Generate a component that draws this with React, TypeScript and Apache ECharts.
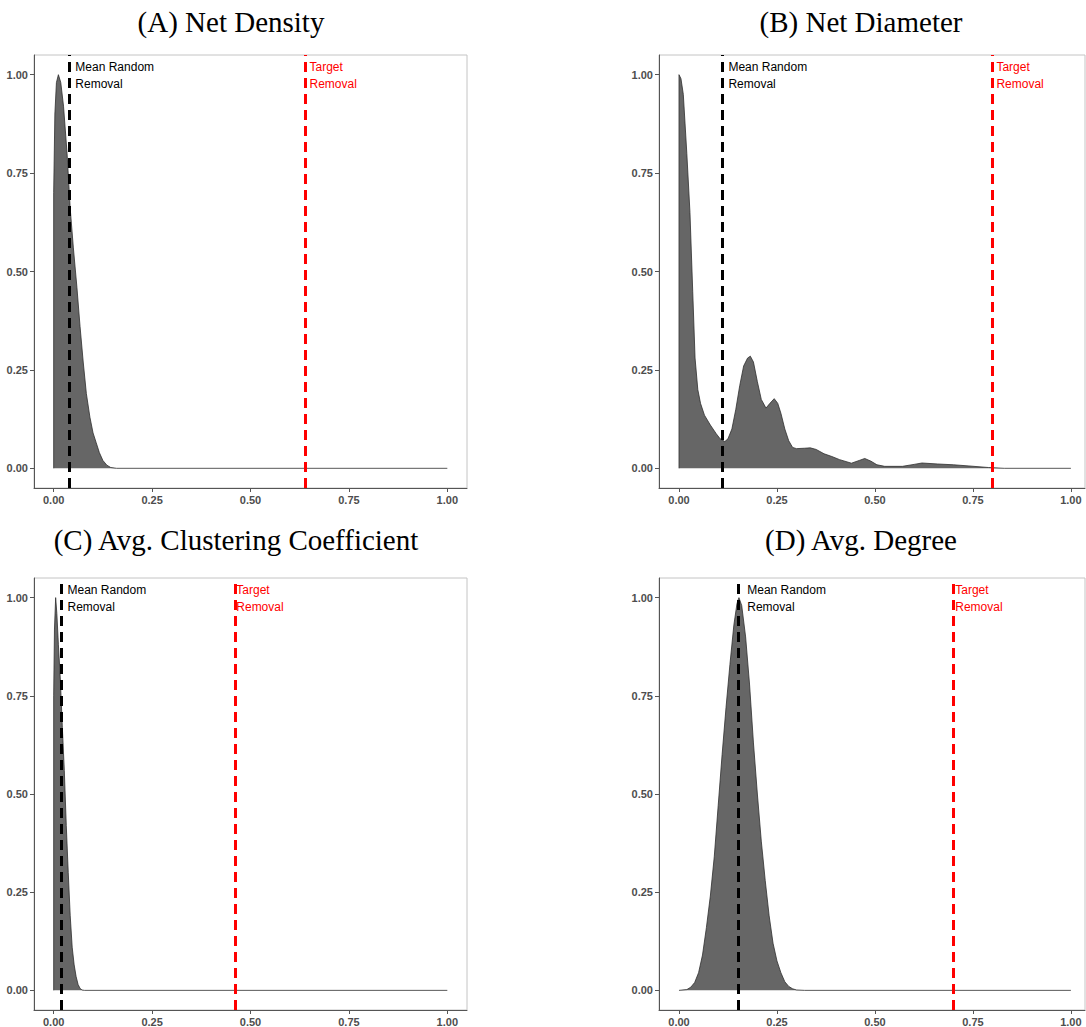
import React, { useEffect, useRef } from "react";
import * as echarts from "echarts";

const tickValues = [0, 0.25, 0.5, 0.75, 1];
const panelTitles = [
  "(A) Net Density",
  "(B) Net Diameter",
  "(C) Avg. Clustering Coefficient",
  "(D) Avg. Degree",
];

const netDensity = [
  [0, 0], [0, 0.7], [0.003, 0.9], [0.007, 0.98], [0.012, 1.0], [0.018, 0.98],
  [0.025, 0.92], [0.034, 0.8], [0.042, 0.66], [0.05, 0.56], [0.059, 0.46],
  [0.067, 0.36], [0.075, 0.27], [0.083, 0.19], [0.092, 0.13], [0.1, 0.09],
  [0.108, 0.065], [0.116, 0.04], [0.125, 0.02], [0.135, 0.008], [0.145, 0.002],
  [0.16, 0], [1, 0],
];

const netDiameter = [
  [0, 0], [0, 1.0], [0.005, 0.99], [0.011, 0.95], [0.02, 0.8], [0.028, 0.65],
  [0.035, 0.45], [0.041, 0.28], [0.048, 0.2], [0.055, 0.165], [0.065, 0.135],
  [0.08, 0.11], [0.095, 0.088], [0.105, 0.075], [0.117, 0.068], [0.125, 0.075],
  [0.135, 0.1], [0.145, 0.15], [0.155, 0.21], [0.165, 0.26], [0.175, 0.28],
  [0.182, 0.285], [0.19, 0.27], [0.2, 0.22], [0.21, 0.175], [0.222, 0.153],
  [0.232, 0.165], [0.243, 0.177], [0.252, 0.165], [0.26, 0.14], [0.27, 0.1],
  [0.28, 0.07], [0.29, 0.053], [0.3, 0.05], [0.32, 0.051], [0.335, 0.052],
  [0.35, 0.048], [0.37, 0.037], [0.39, 0.03], [0.41, 0.022], [0.44, 0.013],
  [0.46, 0.02], [0.474, 0.025], [0.49, 0.018], [0.505, 0.009], [0.525, 0.005],
  [0.57, 0.005], [0.6, 0.01], [0.62, 0.0135], [0.66, 0.011], [0.7, 0.009],
  [0.74, 0.006], [0.79, 0.002], [0.83, 0], [1, 0],
];

const avgClustering = [
  [0, 0], [0, 0.75], [0.002, 0.92], [0.005, 1.0], [0.008, 0.96], [0.012, 0.88],
  [0.017, 0.79], [0.022, 0.67], [0.027, 0.56], [0.032, 0.42], [0.037, 0.3],
  [0.042, 0.19], [0.047, 0.11], [0.052, 0.065], [0.057, 0.035], [0.062, 0.015],
  [0.067, 0.005], [0.072, 0.001], [0.078, 0], [1, 0],
];

const avgDegree = [
  [0, 0], [0.02, 0.002], [0.03, 0.008], [0.04, 0.02], [0.05, 0.045], [0.06, 0.09],
  [0.07, 0.16], [0.08, 0.24], [0.09, 0.34], [0.1, 0.47], [0.11, 0.6], [0.12, 0.72],
  [0.13, 0.83], [0.14, 0.93], [0.148, 0.985], [0.153, 1.0], [0.16, 0.98], [0.17, 0.9],
  [0.18, 0.78], [0.19, 0.63], [0.2, 0.5], [0.21, 0.38], [0.22, 0.28], [0.23, 0.19],
  [0.24, 0.12], [0.25, 0.075], [0.26, 0.045], [0.27, 0.022], [0.28, 0.01],
  [0.29, 0.004], [0.3, 0.001], [0.32, 0], [1, 0],
];

const meanRandomRemoval = [0.036, 0.107, 0.016, 0.155];
const targetRemoval = [0.641, 0.801, 0.455, 0.696];

const densities = [netDensity, netDiameter, avgClustering, avgDegree];

export default function App() {
  const ref = useRef<HTMLDivElement>(null);

  useEffect(() => {
    if (!ref.current) return;
    const chart = echarts.init(ref.current, undefined, { renderer: "svg" });

    const grids = [
      { left: 34, top: 55, width: 433, height: 433 },
      { left: 659, top: 55, width: 426, height: 433 },
      { left: 34, top: 578, width: 433, height: 433 },
      { left: 659, top: 578, width: 426, height: 433 },
    ];
    const xMin = [-0.05, -0.051, -0.05, -0.051];
    const xMax = [1.05, 1.036, 1.05, 1.036];
    const titleX = [226, 856, 231, 856];
    const titleY = [2, 2, 520, 520];

    const labelStyle = {
      color: "#4d4d4d",
      fontWeight: "bold" as const,
      fontSize: 11,
      fontFamily: "Liberation Sans, Arial, sans-serif",
      margin: 6,
      formatter: (v: number) => v.toFixed(2),
      customValues: tickValues,
    };
    const axisCommon = {
      type: "value" as const,
      splitLine: { show: false },
      axisLine: { show: true, onZero: false, lineStyle: { color: "#555555", width: 1 } },
      axisTick: { show: true, length: 4, lineStyle: { color: "#555555" }, customValues: tickValues },
      axisLabel: labelStyle,
    };

    const annot = (x: number, text: string, color: string, dx: number) => ({
      coord: [x, 1.05],
      symbol: "rect",
      symbolSize: 1,
      itemStyle: { color: "rgba(0,0,0,0)" },
      label: {
        show: true,
        position: [dx, 4],
        formatter: text,
        color,
        fontSize: 12,
        lineHeight: 17,
        fontFamily: "Liberation Sans, Arial, sans-serif",
        align: "left",
        verticalAlign: "top",
      },
    });

    const option: any = {
      animation: false,
      backgroundColor: "#ffffff",
      title: panelTitles.map((t, i) => ({
        text: t,
        left: titleX[i],
        top: titleY[i],
        textAlign: "center",
        textStyle: {
          fontFamily: "Liberation Serif, Times New Roman, serif",
          fontWeight: "normal",
          fontSize: 29,
          color: "#000000",
        },
      })),
      grid: grids.map((g) => ({
        ...g,
        show: true,
        borderColor: "#c4c4c4",
        borderWidth: 1,
        backgroundColor: "#ffffff",
      })),
      xAxis: grids.map((_, i) => ({
        ...axisCommon,
        gridIndex: i,
        min: xMin[i],
        max: xMax[i],
      })),
      yAxis: grids.map((_, i) => ({
        ...axisCommon,
        gridIndex: i,
        min: -0.05,
        max: 1.05,
      })),
      series: densities.map((d, i) => ({
        type: "line",
        xAxisIndex: i,
        yAxisIndex: i,
        data: d,
        symbol: "none",
        silent: true,
        lineStyle: { color: "#2e2e2e", width: 0.8 },
        areaStyle: { color: "#666666", opacity: 1 },
        markLine: {
          silent: true,
          symbol: ["none", "none"],
          label: { show: false },
          emphasis: { disabled: true },
          data: [
            { xAxis: meanRandomRemoval[i], lineStyle: { color: "#000000", type: [10, 6], width: 3 } },
            { xAxis: targetRemoval[i], lineStyle: { color: "#ff0000", type: [10, 6], width: 3 } },
          ],
        },
        markPoint: {
          silent: true,
          data: [
            annot(meanRandomRemoval[i], "Mean Random\nRemoval", "#000000", 8),
            annot(targetRemoval[i], "Target\nRemoval", "#ff0000", 4),
          ],
        },
      })),
    };

    chart.setOption(option);
    return () => chart.dispose();
  }, []);

  return (
    <div
      ref={ref}
      style={{ position: "fixed", left: 0, top: 0, width: 1086, height: 1027, background: "#fff" }}
    />
  );
}
